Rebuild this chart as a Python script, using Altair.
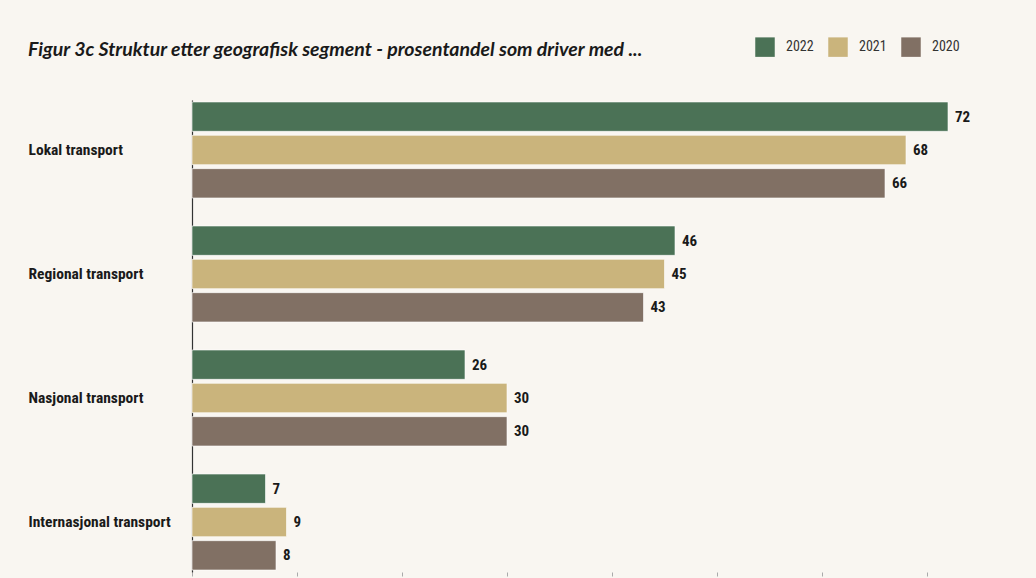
import altair as alt
import pandas as pd

categories = ["Lokal transport", "Regional transport", "Nasjonal transport", "Internasjonal transport"]
years = ["2022", "2021", "2020"]
v2022 = [72, 46, 26, 7]
v2021 = [68, 45, 30, 9]
v2020 = [66, 43, 30, 8]
x_ticks = [0, 10, 20, 30, 40, 50, 60, 70]
colors = ["#4b7256", "#cab47c", "#817064"]

rows = []
for i, c in enumerate(categories):
    for y, vals in zip(years, [v2022, v2021, v2020]):
        rows.append({"kategori": c, "år": y, "verdi": vals[i]})
df = pd.DataFrame(rows)

narrow = "'Liberation Sans Narrow', 'Roboto Condensed', 'DejaVu Sans Condensed', Roboto, sans-serif"

y_enc = alt.Y("kategori:N", sort=categories,
              scale=alt.Scale(paddingInner=0.226, paddingOuter=0.016),
              axis=alt.Axis(title=None, labelAlign="left", labelPadding=164, ticks=False,
                            domain=True, domainColor="#333333", domainWidth=1.2,
                            labelFont=narrow, labelFontWeight="bold", labelFontSize=15.5,
                            labelColor="#1a1a1a"))
yoff = alt.YOffset("år:N", sort=years, scale=alt.Scale(paddingInner=0.12, paddingOuter=0))
x_enc = alt.X("verdi:Q", scale=alt.Scale(domain=[0, 80], nice=False),
              axis=alt.Axis(title=None, labels=False, grid=False, domain=False, ticks=True,
                            tickSize=4, tickColor="#aaaaaa", values=x_ticks))

bars = alt.Chart(df).mark_bar(stroke="#ffffff", strokeWidth=0.6).encode(
    x=x_enc, y=y_enc, yOffset=yoff,
    color=alt.Color("år:N", sort=years,
                    scale=alt.Scale(domain=years, range=colors),
                    legend=alt.Legend(title=None, orient="none", legendX=563, legendY=-63,
                                      direction="horizontal", symbolType="square",
                                      symbolSize=380, symbolStrokeWidth=0,
                                      labelFont=narrow, labelFontSize=14, labelColor="#333333",
                                      labelOffset=11, columnPadding=14)),
)

text = alt.Chart(df).mark_text(align="left", dx=7, font=narrow, fontWeight="bold",
                               fontSize=15, color="#1a1a1a").encode(
    x="verdi:Q", y=alt.Y("kategori:N", sort=categories), yOffset=yoff, text="verdi:Q"
)

chart = (bars + text).properties(
    width=840, height=472,
    title=alt.TitleParams("Figur 3c Struktur etter geografisk segment - prosentandel som driver med ...",
                          anchor="start", frame="group", dx=-164, offset=0, dy=23,
                          font="Lato", fontStyle="italic", fontWeight="bold", fontSize=19.5,
                          color="#1a1a1a"),
    autosize=alt.AutoSizeParams(type="none"),
    padding={"left": 192, "top": 100, "right": 4, "bottom": 6},
    background="#f9f6f1",
).configure_view(stroke=None)

chart.save("out.html", embed_options={"renderer": "svg", "actions": False})
